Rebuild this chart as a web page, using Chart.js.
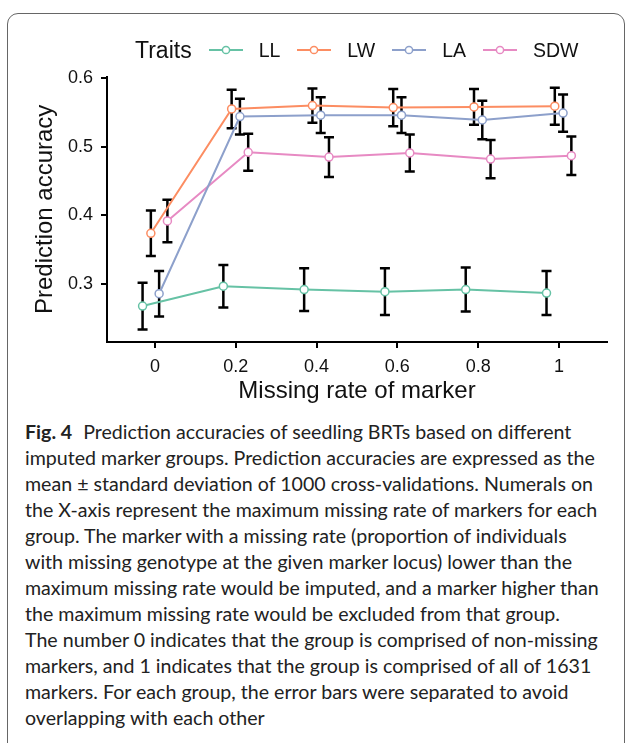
<!DOCTYPE html>
<html>
<head>
  <title>Prediction accuracy by missing rate of marker</title>
  <script src="https://cdn.jsdelivr.net/npm/chart.js"></script>
  <style>
    body { margin: 0; background: #fff; font-family: "Liberation Sans", Arial, sans-serif; }
    .frame { position: absolute; left: 7px; top: 13px; width: 616px; height: 740px; border: 1.5px solid #666; border-radius: 11px; }
    .chart-box { position: absolute; left: 0; top: 0; width: 627px; height: 410px; }
    .legend { position: absolute; left: 135px; top: 36px; height: 28px; display: flex; align-items: center; color: #111; }
    .legend .title { font-size: 23px; }
    .legend svg { margin-left: 17px; }
    .legend .lab { font-size: 19.5px; margin-left: 16px; }
    .caption { position: absolute; left: 25px; top: 419px; font-family: Lato, sans-serif; font-size: 19.6px; line-height: 26px; color: #222; white-space: nowrap; }
    .caption b { font-weight: bold; margin-right: 6px; }
  </style>
</head>
<body>
  <div class="frame"></div>
  <div class="chart-box"><canvas id="accChart" width="627" height="410"></canvas></div>
  <div class="legend" id="legend"><span class="title">Traits</span></div>
  <div class="caption">
    <b>Fig. 4</b> Prediction accuracies of seedling BRTs based on different<br>
    imputed marker groups. Prediction accuracies are expressed as the<br>
    mean ± standard deviation of 1000 cross-validations. Numerals on<br>
    the X-axis represent the maximum missing rate of markers for each<br>
    group. The marker with a missing rate (proportion of individuals<br>
    with missing genotype at the given marker locus) lower than the<br>
    maximum missing rate would be imputed, and a marker higher than<br>
    the maximum missing rate would be excluded from that group.<br>
    The number 0 indicates that the group is comprised of non-missing<br>
    markers, and 1 indicates that the group is comprised of all of 1631<br>
    markers. For each group, the error bars were separated to avoid<br>
    overlapping with each other
  </div>

  <script>
    // data (mean and sd per missing rate)
    const rates = [0, 0.2, 0.4, 0.6, 0.8, 1];
    const traits = ['LL', 'LW', 'LA', 'SDW'];
    const llMean = [0.268, 0.297, 0.292, 0.289, 0.292, 0.287];
    const llSd = [0.034, 0.031, 0.031, 0.034, 0.032, 0.032];
    const lwMean = [0.374, 0.555, 0.560, 0.557, 0.558, 0.559];
    const lwSd = [0.033, 0.028, 0.025, 0.027, 0.026, 0.027];
    const laMean = [0.286, 0.544, 0.546, 0.546, 0.539, 0.549];
    const laSd = [0.033, 0.026, 0.026, 0.026, 0.028, 0.027];
    const sdwMean = [0.392, 0.492, 0.485, 0.491, 0.482, 0.487];
    const sdwSd = [0.031, 0.027, 0.029, 0.027, 0.028, 0.028];
    const xTicks = [0, 0.2, 0.4, 0.6, 0.8, 1];
    const yTicks = [0.3, 0.4, 0.5, 0.6];

    const means = [llMean, lwMean, laMean, sdwMean];
    const sds = [llSd, lwSd, laSd, sdwSd];
    const colors = ['#66c2a5', '#fc8d62', '#8da0cb', '#e78ac3'];
    const dodge = 0.0205;

    // html legend with line + open circle keys
    const legend = document.getElementById('legend');
    traits.forEach((t, i) => {
      legend.insertAdjacentHTML('beforeend',
        '<svg width="34" height="12"><line x1="0" y1="6" x2="34" y2="6" stroke="' + colors[i] + '" stroke-width="2"/>' +
        '<circle cx="17" cy="6" r="3.6" fill="#fff" stroke="' + colors[i] + '" stroke-width="1.5"/></svg>' +
        '<span class="lab">' + t + '</span>');
    });

    const errorBars = {
      id: 'errorBars',
      beforeDatasetsDraw(chart) {
        const { ctx, scales: { x, y } } = chart;
        ctx.save();
        ctx.strokeStyle = '#000';
        ctx.lineWidth = 2.5;
        ctx.lineCap = 'butt';
        chart.data.datasets.forEach(ds => {
          ds.data.forEach((p, i) => {
            const px = x.getPixelForValue(p.x);
            const top = y.getPixelForValue(p.y + ds.sd[i]);
            const bot = y.getPixelForValue(p.y - ds.sd[i]);
            ctx.beginPath();
            ctx.moveTo(px, top); ctx.lineTo(px, bot);
            ctx.moveTo(px - 5, top); ctx.lineTo(px + 5, top);
            ctx.moveTo(px - 5, bot); ctx.lineTo(px + 5, bot);
            ctx.stroke();
          });
        });
        ctx.restore();
      }
    };

    Chart.defaults.font.family = '"Liberation Sans", Arial, sans-serif';
    Chart.defaults.color = '#111';

    new Chart(document.getElementById('accChart'), {
      type: 'line',
      data: {
        datasets: traits.map((t, i) => ({
          label: t,
          data: rates.map((r, j) => ({ x: r + (i - 1.5) * dodge, y: means[i][j] })),
          sd: sds[i],
          borderColor: colors[i],
          borderWidth: 2,
          backgroundColor: '#fff',
          pointBackgroundColor: '#fff',
          pointBorderColor: colors[i],
          pointBorderWidth: 1.5,
          pointRadius: 4,
          tension: 0,
          clip: false
        }))
      },
      options: {
        responsive: false,
        animation: false,
        devicePixelRatio: 1,
        layout: { padding: { top: 76.7, right: 20, left: 0, bottom: 0 } },
        plugins: {
          legend: { display: false },
          tooltip: { enabled: false }
        },
        scales: {
          x: {
            type: 'linear',
            min: -0.1188,
            max: 1.119,
            afterBuildTicks: s => { s.ticks = xTicks.map(v => ({ value: v })); },
            afterFit: s => { s.height = 68; },
            grid: { display: true, drawOnChartArea: false, drawTicks: true, tickLength: 6, color: '#000', lineWidth: 2 },
            border: { display: true, color: '#000', width: 2 },
            ticks: { font: { size: 18 }, padding: 8, color: '#111', maxRotation: 0, callback: v => String(v) },
            title: { display: true, text: 'Missing rate of marker', font: { size: 24 }, padding: { top: 0, bottom: 4 }, color: '#111' }
          },
          y: {
            min: 0.2157,
            max: 0.602,
            afterBuildTicks: s => { s.ticks = yTicks.map(v => ({ value: v })); },
            afterFit: s => { s.width = 107; },
            grid: { display: true, drawOnChartArea: false, drawTicks: true, tickLength: 6, color: '#000', lineWidth: 2 },
            border: { display: true, color: '#000', width: 2 },
            ticks: { font: { size: 18 }, padding: 8, color: '#111', callback: v => String(v) },
            title: { display: true, text: 'Prediction accuracy', font: { size: 24 }, padding: { top: 30.6, bottom: 0 }, color: '#111' }
          }
        }
      },
      plugins: [errorBars]
    });
  </script>
</body>
</html>
